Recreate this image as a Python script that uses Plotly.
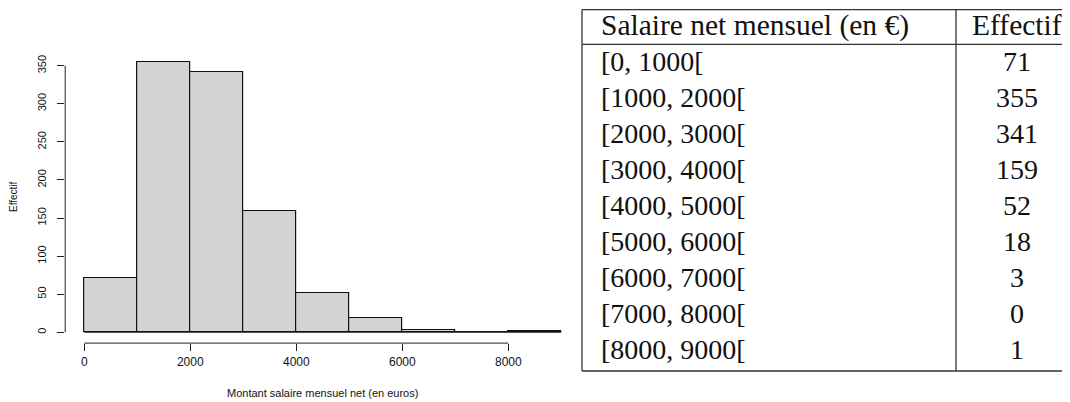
import plotly.graph_objects as go

# ---------------- data ----------------
bin_edges = [0, 1000, 2000, 3000, 4000, 5000, 6000, 7000, 8000, 9000]
counts = [71, 355, 341, 159, 52, 18, 3, 0, 1]
x_ticks = [0, 2000, 4000, 6000, 8000]
y_ticks = [0, 50, 100, 150, 200, 250, 300, 350]
x_title = "Montant salaire mensuel net (en euros)"
y_title = "Effectif"
table_header = ["Salaire net mensuel (en €)", "Effectif"]

# page body has an 8px margin: shrink the figure and shift coordinates
OFF = 8
W, H = 1070 - OFF, 402 - OFF


def px(x):
    return (x - OFF) / W


def py(y):
    return 1 - (y - OFF) / H


centers = [(a + b) / 2 for a, b in zip(bin_edges[:-1], bin_edges[1:])]
widths = [b - a for a, b in zip(bin_edges[:-1], bin_edges[1:])]

# R-style 4% axis expansion
xr = bin_edges[-1] - bin_edges[0]
x_range = [bin_edges[0] - 0.04 * xr, bin_edges[-1] + 0.04 * xr]
yr = max(counts)
y_range = [-0.04 * yr, yr * 1.04]

fig = go.Figure()

fig.add_trace(go.Scatter(
    x=[bin_edges[0], bin_edges[-1]], y=[0, 0], mode="lines",
    line=dict(color="#222222", width=1), hoverinfo="skip", showlegend=False))

fig.add_trace(go.Bar(
    x=centers, y=counts, width=widths,
    marker=dict(color="#D3D3D3", line=dict(color="#111111", width=1.2)),
    showlegend=False))

sans = "Liberation Sans, Arial, Helvetica, sans-serif"
serif = "Liberation Serif, Times New Roman, serif"

fig.update_layout(
    width=W, height=H,
    margin=dict(l=0, r=0, t=0, b=0),
    paper_bgcolor="white", plot_bgcolor="white",
    bargap=0,
    xaxis=dict(
        domain=[px(65.2), px(580.4)], range=x_range,
        tickmode="array", tickvals=x_ticks, ticktext=[str(v) for v in x_ticks],
        ticks="outside", ticklen=7, tickwidth=1, tickcolor="#222222",
        showline=False, showgrid=False, zeroline=False,
        tickfont=dict(family=sans, size=12, color="#111111"),
    ),
    yaxis=dict(
        domain=[py(343.1), py(51.1)], range=y_range,
        tickmode="array", tickvals=y_ticks, ticktext=[str(v) for v in y_ticks],
        ticks="outside", ticklen=7, tickwidth=1, tickcolor="#222222",
        tickangle=-90, ticklabelstandoff=7,
        showline=False, showgrid=False, zeroline=False,
        tickfont=dict(family=sans, size=11, color="#111111"),
    ),
)

# R-style axis lines spanning first..last tick
fig.add_shape(type="line", xref="x", yref="y domain",
              x0=x_ticks[0], x1=x_ticks[-1], y0=0, y1=0,
              line=dict(color="#222222", width=1))
fig.add_shape(type="line", xref="x domain", yref="y",
              x0=0, x1=0, y0=y_ticks[0], y1=y_ticks[-1],
              line=dict(color="#222222", width=1))

# axis titles
fig.add_annotation(x=px(322.8), y=py(393), xref="paper", yref="paper",
                   text=x_title, showarrow=False,
                   xanchor="center", yanchor="middle",
                   font=dict(family=sans, size=11, color="#111111"))
fig.add_annotation(x=px(14), y=py(197), xref="paper", yref="paper",
                   text=y_title, showarrow=False, textangle=-90,
                   xanchor="center", yanchor="middle",
                   font=dict(family=sans, size=10, color="#111111"))

# ---------------- table ----------------
tl, tdiv, tr = 582, 956, 1079
ttop, thead, tbot = 9.6, 44.3, 371
lc = dict(color="#333333", width=1.3)
for y in (ttop, thead, tbot):
    fig.add_shape(type="line", xref="paper", yref="paper",
                  x0=px(tl), x1=px(tr), y0=py(y), y1=py(y), line=lc)
for x in (tl, tdiv, tr):
    fig.add_shape(type="line", xref="paper", yref="paper",
                  x0=px(x), x1=px(x), y0=py(ttop), y1=py(tbot), line=lc)

tfont = dict(family=serif, size=28, color="#111111")
hfont = dict(family=serif, size=29.5, color="#111111")
col1_left = 599
col2_center = 1017
fig.add_annotation(x=px(col1_left), y=py(25.5), xref="paper", yref="paper",
                   text=table_header[0], showarrow=False, xanchor="left",
                   yanchor="middle", font=hfont)
fig.add_annotation(x=px(col2_center), y=py(25.5), xref="paper", yref="paper",
                   text=table_header[1], showarrow=False, xanchor="center",
                   yanchor="middle", font=hfont)

row0, row_step = 61.2, 36.0
for i, (a, b) in enumerate(zip(bin_edges[:-1], bin_edges[1:])):
    yc = row0 + i * row_step
    fig.add_annotation(x=px(col1_left), y=py(yc), xref="paper", yref="paper",
                       text=f"[{a}, {b}[", showarrow=False, xanchor="left",
                       yanchor="middle", font=tfont)
    fig.add_annotation(x=px(col2_center), y=py(yc), xref="paper", yref="paper",
                       text=str(counts[i]), showarrow=False, xanchor="center",
                       yanchor="middle", font=tfont)

fig.write_html("out.html")
